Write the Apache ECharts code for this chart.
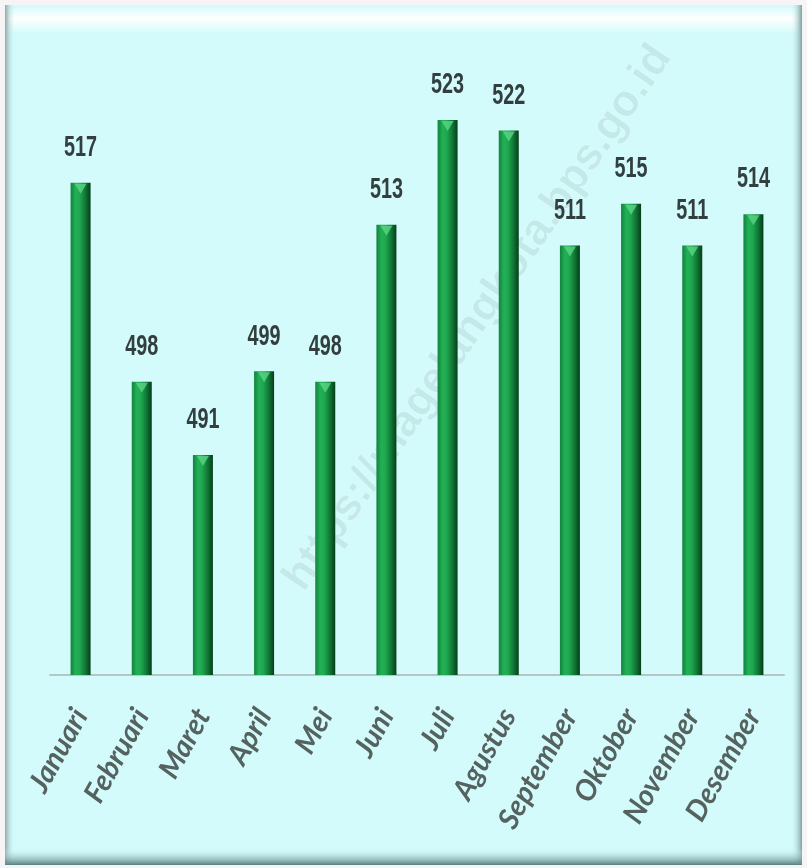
<!DOCTYPE html>
<html>
<head>
<meta charset="utf-8">
<script src="https://cdn.jsdelivr.net/npm/echarts@6/dist/echarts.min.js"></script>
<style>
html,body{margin:0;padding:0;background:#f6f4f4;}
#c{width:807px;height:868px;}
</style>
</head>
<body>
<div id="c"></div>
<script>
const categories = ['Januari','Februari','Maret','April','Mei','Juni','Juli','Agustus','September','Oktober','November','Desember'];
const values = [517, 498, 491, 499, 498, 513, 523, 522, 511, 515, 511, 514];
const watermark = 'https://magelangkota.bps.go.id';

const chart = echarts.init(document.getElementById('c'), null, {renderer: 'canvas'});

const barGradient = new echarts.graphic.LinearGradient(0, 0, 1, 0, [
  {offset: 0, color: '#12823d'},
  {offset: 0.25, color: '#22b056'},
  {offset: 0.45, color: '#1fa84f'},
  {offset: 0.75, color: '#0f7434'},
  {offset: 1, color: '#063d1a'}
]);

chart.setOption({
  backgroundColor: '#f6f4f4',
  animation: false,
  graphic: [
    {type: 'rect', z: -10, shape: {x: 5, y: 5, width: 797, height: 860}, style: {fill: '#d3fbfb'}},
    {type: 'rect', z: -9, shape: {x: 8, y: 8, width: 791, height: 26},
      style: {fill: new echarts.graphic.LinearGradient(0, 0, 0, 1, [
        {offset: 0, color: 'rgba(255,255,255,0.2)'},
        {offset: 0.4, color: 'rgba(255,255,255,1)'},
        {offset: 1, color: 'rgba(255,255,255,0)'}])}},
    {type: 'rect', z: -9, shape: {x: 5, y: 5, width: 10, height: 858},
      style: {fill: new echarts.graphic.LinearGradient(0, 0, 1, 0, [
        {offset: 0, color: 'rgba(140,160,160,0.9)'},
        {offset: 1, color: 'rgba(211,251,251,0)'}])}},
    {type: 'rect', z: -9, shape: {x: 791, y: 5, width: 11, height: 858},
      style: {fill: new echarts.graphic.LinearGradient(0, 0, 1, 0, [
        {offset: 0, color: 'rgba(211,251,251,0)'},
        {offset: 1, color: 'rgba(120,150,150,0.9)'}])}},
    {type: 'rect', z: -9, shape: {x: 5, y: 848, width: 797, height: 17},
      style: {fill: new echarts.graphic.LinearGradient(0, 0, 0, 1, [
        {offset: 0, color: 'rgba(211,251,251,0)'},
        {offset: 1, color: 'rgba(80,120,120,0.95)'}])}},
    {type: 'text', z: -5, x: 478, y: 318, rotation: 55.5 * Math.PI / 180,
      style: {text: watermark, fill: 'rgba(150,190,190,0.28)', stroke: 'rgba(255,255,255,0.4)', lineWidth: 1,
        font: 'bold 44px "Liberation Sans", Arial, sans-serif', align: 'center', verticalAlign: 'middle'}}
  ],
  grid: {left: 50, right: 23, top: 99, bottom: 193, containLabel: false, outerBoundsMode: 'none'},
  xAxis: {
    type: 'category',
    data: categories,
    axisLine: {lineStyle: {color: '#b4c6c6', width: 2}},
    axisTick: {show: false},
    axisLabel: {
      rotate: 61,
      margin: 36,
      interval: 0,
      fontFamily: 'Lato, "Open Sans", sans-serif',
      fontStyle: 'italic',
      fontWeight: 'bold',
      fontSize: 29,
      color: '#55625f'
    }
  },
  yAxis: {type: 'value', min: 470, max: 525, show: false, splitLine: {show: false}},
  series: [
    {
      type: 'bar',
      data: values,
      barWidth: 20,
      itemStyle: {color: barGradient}
    },
    {
      type: 'scatter',
      data: values,
      symbol: 'triangle',
      symbolRotate: 180,
      symbolSize: [12, 10],
      symbolOffset: [0, 6],
      itemStyle: {color: '#5bd686'},
      z: 5,
      silent: true
    },
    {
      type: 'custom',
      data: values.map((v, i) => [i, v]),
      encode: {x: 0, y: 1},
      z: 6,
      silent: true,
      renderItem: function (params, api) {
        const p = api.coord([api.value(0), api.value(1)]);
        return {
          type: 'text',
          x: p[0],
          y: p[1] - 20,
          scaleX: 0.66,
          style: {
            text: String(api.value(1)),
            font: 'bold 30px "Liberation Sans", Arial, sans-serif',
            fill: '#333e3e',
            align: 'center',
            verticalAlign: 'bottom'
          }
        };
      }
    }
  ]
});
</script>
</body>
</html>
